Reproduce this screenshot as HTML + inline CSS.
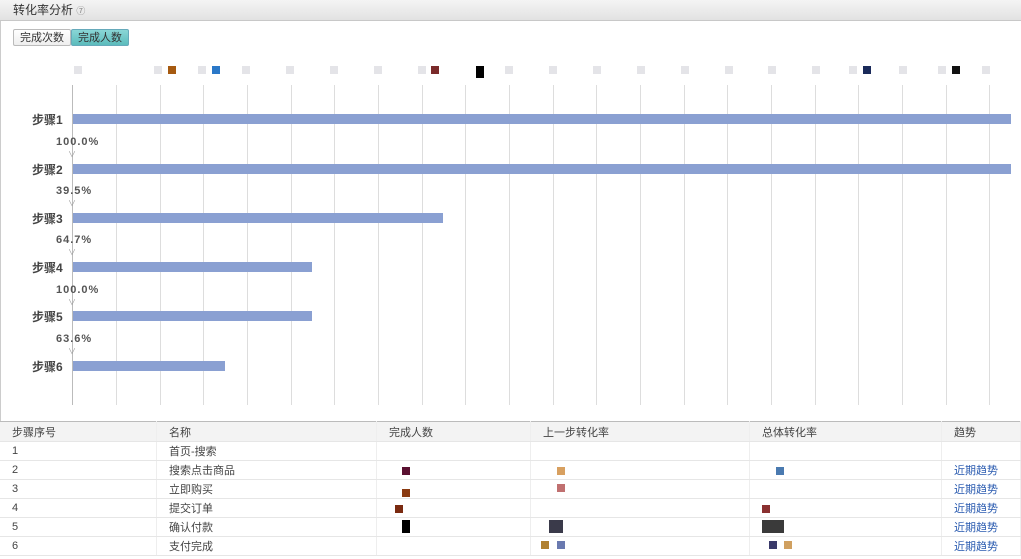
<!DOCTYPE html>
<html><head><meta charset="utf-8"><style>
body{margin:0;width:1021px;height:559px;overflow:hidden;background:#fff;font-family:"Liberation Sans","Noto Sans CJK SC",sans-serif;position:relative}
.hdr{position:absolute;left:0;top:0;width:1021px;height:20px;background:linear-gradient(#f4f4f4,#e2e2e2);border-bottom:1px solid #c8c8c8;font-size:12px;color:#333;line-height:20px;text-indent:13px}
.btns{position:absolute;left:13px;top:29px;height:17px;display:flex;font-size:11px}
.btns div{border:1px solid #bbb;padding:0 6px;line-height:16px;color:#333;background:linear-gradient(#fff,#eee);border-radius:2px}
.btns .on{background:linear-gradient(#8ad6d6,#5bbcbc);border-color:#6ab}
.g{position:absolute;top:85px;height:320px;width:1px;background:#ddd}
.bar{position:absolute;left:73px;height:10px;background:#8aa0d2}
.lab{position:absolute;left:32px;font-size:12px;font-weight:bold;color:#444}
.pct{position:absolute;left:56px;font-size:11px;font-weight:bold;color:#555;letter-spacing:1px}
.arr{position:absolute;left:68px;font-size:8px;color:#999}
table{position:absolute;left:0;top:421px;width:1021px;border-collapse:collapse;font-size:11px;color:#444}
td{height:18px;padding:0 0 0 12px;border-bottom:1px solid #e6e6e6;border-right:1px solid #eee}
tr.h td{background:#f3f3f3;height:19px;border-top:1px solid #bbb}
a{color:#2a5bb0;text-decoration:none}
.sq{position:absolute;width:8px;height:8px}
.lg{position:absolute;width:8px;height:8px;top:66px;background:#e4e4e8}
</style></head><body>
<div class="hdr">转化率分析 <span style="font-size:9px;color:#888">⑦</span></div>
<div style="position:absolute;left:0;top:21px;width:1px;height:400px;background:#ccc"></div>
<div class="btns"><div>完成次数</div><div class="on">完成人数</div></div>
<div class="lg" style="left:74px"></div><div class="lg" style="left:154px"></div><div class="lg" style="left:198px"></div><div class="lg" style="left:242px"></div><div class="lg" style="left:286px"></div><div class="lg" style="left:330px"></div><div class="lg" style="left:374px"></div><div class="lg" style="left:418px"></div><div class="lg" style="left:505px"></div><div class="lg" style="left:549px"></div><div class="lg" style="left:593px"></div><div class="lg" style="left:637px"></div><div class="lg" style="left:681px"></div><div class="lg" style="left:725px"></div><div class="lg" style="left:768px"></div><div class="lg" style="left:812px"></div><div class="lg" style="left:849px"></div><div class="lg" style="left:899px"></div><div class="lg" style="left:938px"></div><div class="lg" style="left:982px"></div>
<div class="sq" style="left:168px;top:66px;background:#a65a10"></div>
<div class="sq" style="left:212px;top:66px;background:#2a78c8"></div>
<div class="sq" style="left:431px;top:66px;background:#7a2a2a"></div>
<div class="sq" style="left:476px;top:66px;height:12px;background:#000"></div>
<div class="sq" style="left:863px;top:66px;background:#1a2a5a"></div>
<div class="sq" style="left:952px;top:66px;background:#111"></div>
<div class="g" style="left:72px;background:#bbb"></div>
<div class="g" style="left:116px"></div><div class="g" style="left:160px"></div><div class="g" style="left:203px"></div><div class="g" style="left:247px"></div><div class="g" style="left:291px"></div><div class="g" style="left:334px"></div><div class="g" style="left:378px"></div><div class="g" style="left:422px"></div><div class="g" style="left:465px"></div><div class="g" style="left:509px"></div><div class="g" style="left:553px"></div><div class="g" style="left:596px"></div><div class="g" style="left:640px"></div><div class="g" style="left:684px"></div><div class="g" style="left:727px"></div><div class="g" style="left:771px"></div><div class="g" style="left:815px"></div><div class="g" style="left:858px"></div><div class="g" style="left:902px"></div><div class="g" style="left:946px"></div><div class="g" style="left:989px"></div>
<div class="bar" style="top:114px;width:938px"></div>
<div class="bar" style="top:164px;width:938px"></div>
<div class="bar" style="top:213px;width:370px"></div>
<div class="bar" style="top:262px;width:239px"></div>
<div class="bar" style="top:311px;width:239px"></div>
<div class="bar" style="top:361px;width:152px"></div>
<div class="lab" style="top:111px">步骤1</div><div class="pct" style="top:136px">100.0%</div><div class="arr" style="top:149px">∨</div>
<div class="lab" style="top:161px">步骤2</div><div class="pct" style="top:185px">39.5%</div><div class="arr" style="top:198px">∨</div>
<div class="lab" style="top:210px">步骤3</div><div class="pct" style="top:234px">64.7%</div><div class="arr" style="top:247px">∨</div>
<div class="lab" style="top:259px">步骤4</div><div class="pct" style="top:284px">100.0%</div><div class="arr" style="top:297px">∨</div>
<div class="lab" style="top:308px">步骤5</div><div class="pct" style="top:333px">63.6%</div><div class="arr" style="top:346px">∨</div>
<div class="lab" style="top:358px">步骤6</div>
<table>
<tr class="h"><td style="width:144px">步骤序号</td><td style="width:207px">名称</td><td style="width:141px">完成人数</td><td style="width:206px">上一步转化率</td><td style="width:179px">总体转化率</td><td>趋势</td></tr>
<tr><td>1</td><td>首页-搜索</td><td></td><td></td><td></td><td></td></tr>
<tr><td>2</td><td>搜索点击商品</td><td></td><td></td><td></td><td><a>近期趋势</a></td></tr>
<tr><td>3</td><td>立即购买</td><td></td><td></td><td></td><td><a>近期趋势</a></td></tr>
<tr><td>4</td><td>提交订单</td><td></td><td></td><td></td><td><a>近期趋势</a></td></tr>
<tr><td>5</td><td>确认付款</td><td></td><td></td><td></td><td><a>近期趋势</a></td></tr>
<tr><td>6</td><td>支付完成</td><td></td><td></td><td></td><td><a>近期趋势</a></td></tr>
</table>
<div class="sq" style="left:402px;top:467px;background:#5a1030"></div>
<div class="sq" style="left:402px;top:489px;background:#8a3a10"></div>
<div class="sq" style="left:395px;top:505px;background:#7a2a10"></div>
<div class="sq" style="left:402px;top:520px;height:13px;background:#000"></div>
<div class="sq" style="left:557px;top:467px;background:#d8a060"></div>
<div class="sq" style="left:557px;top:484px;background:#c07070"></div>
<div class="sq" style="left:549px;top:520px;height:13px;width:14px;background:#3a3a4a"></div>
<div class="sq" style="left:541px;top:541px;background:#b08030"></div>
<div class="sq" style="left:557px;top:541px;background:#6a7ab0"></div>
<div class="sq" style="left:776px;top:467px;background:#4a7ab0"></div>
<div class="sq" style="left:762px;top:505px;background:#8a3030"></div>
<div class="sq" style="left:762px;top:520px;height:13px;width:22px;background:#3a3a3a"></div>
<div class="sq" style="left:769px;top:541px;background:#3a3a6a"></div>
<div class="sq" style="left:784px;top:541px;background:#d0a060"></div>
</body></html>
